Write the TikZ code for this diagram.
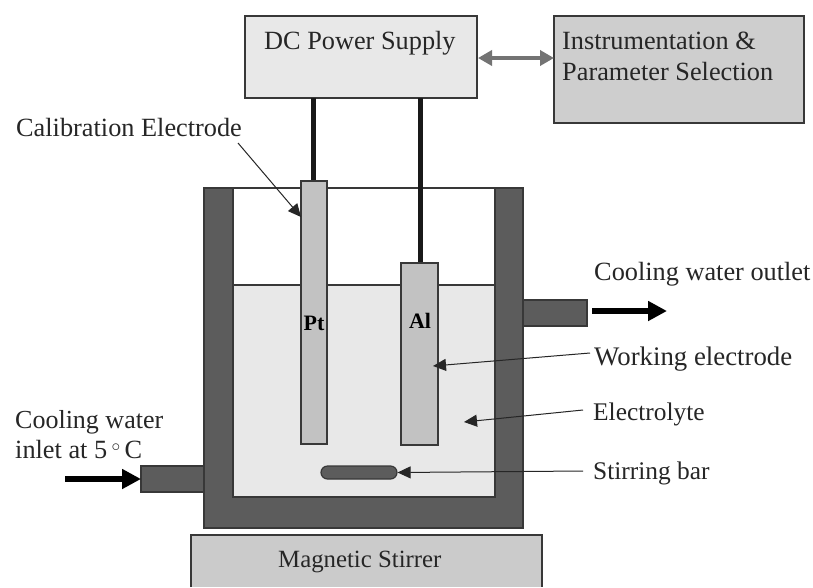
\documentclass[tikz,border=0pt]{standalone}
\usepackage{fontspec}
\setmainfont{Liberation Serif}
\usetikzlibrary{arrows.meta,positioning}
\definecolor{wall}{gray}{0.36}
\definecolor{liquid}{gray}{0.91}
\definecolor{metal}{gray}{0.76}
\definecolor{edge}{gray}{0.22}
\tikzset{
  x=1pt,y=-1pt,
  boxed/.style={draw=edge,line width=1.2pt,anchor=north west,inner sep=0pt,outer sep=0pt},
  label/.style={inner sep=0pt,anchor=base west,font=\fontsize{26.3}{30}\selectfont,text=black!85},
  pointer/.style={draw=black!85,line width=1pt,-{Triangle[length=13pt,width=12pt]}},
  fat/.style={line width=6.5pt,draw=black,-{Triangle[length=19pt,width=19pt]}},
  wire/.style={line width=5pt,draw=black!90},
}
\newcommand{\bx}[6]{\node[boxed,fill=#2,minimum width=#5pt-#3pt,minimum height=#6pt-#4pt] (#1) at (#3,#4) {};}
\begin{document}
\begin{tikzpicture}
\useasboundingbox (0,0) rectangle (813,587);
\fill[white] (0,0) rectangle (813,587);
% supply boxes
\bx{dc}{liquid}{245}{16}{477}{98}
\bx{inst}{metal!80!white}{554}{16}{804}{123}
% stirrer, open at the bottom
\fill[metal!85!white] (191,535) rectangle (542,587);
\draw[draw=edge,line width=1.2pt] (191,587) -- (191,535) -- (542,535) -- (542,587);
% pipes
\bx{pipeL}{wall}{141}{466}{204}{492}
\bx{pipeR}{wall}{523}{300}{587}{326}
% vessel
\bx{vessel}{wall}{204}{188}{523}{528}
\bx{inner}{white}{233}{188}{495}{497}
\bx{liq}{liquid}{233}{285}{495}{497}
% wires
\coordinate (ptTop) at (313,181);
\coordinate (alTop) at (420,263);
\coordinate (ptWire) at (313,98);
\coordinate (alWire) at (420,98);
\draw[wire] (ptWire) -- (ptTop);
\draw[wire] (alWire) -- (alTop);
% electrodes
\bx{pt}{metal}{301}{181}{327}{444}
\bx{al}{metal}{401}{263}{438}{445}
\node[draw=edge,line width=1.2pt,fill=wall,rounded corners=6.5pt,minimum width=76pt,minimum height=13pt,inner sep=0pt] (bar) at (359,472.5) {};
% texts
\node[label] (tdc) at (264,49) {DC Power Supply};
\node[label] (t1a) at (562,49) {Instrumentation \&};
\node[label] (t1b) at (562,80) {Parameter Selection};
\node[label] (tcal) at (16,136) {Calibration Electrode};
\node[label] (tout) at (594,280) {Cooling water outlet};
\node[label,font=\fontsize{26.8}{30}\selectfont] (twork) at (594,365) {Working electrode};
\node[label,font=\fontsize{25.4}{30}\selectfont] (tele) at (593,420) {Electrolyte};
\node[label,font=\fontsize{25.4}{30}\selectfont] (tstir) at (593,479) {Stirring bar};
\node[label,font=\fontsize{26}{30}\selectfont] (tin1) at (15,428) {Cooling water};
\node[label] (tin2) at (15,458) {inlet at 5\,\raisebox{0.55ex}{\fontsize{16}{16}\selectfont$\circ$}\,C};
\node[label,font=\fontsize{24.8}{30}\selectfont] (tmag) at (278,567) {Magnetic Stirrer};
\node[inner sep=0pt,anchor=base,font=\fontsize{22}{24}\selectfont\bfseries] (tpt) at (314,330) {Pt};
\node[inner sep=0pt,anchor=base,font=\fontsize{22}{24}\selectfont\bfseries] (tal) at (420,328) {Al};
% connectors
\draw[line width=4pt,draw=black!55,{Triangle[length=14pt,width=15pt]}-{Triangle[length=14pt,width=15pt]}] (dc.east |- 0,58) ++(1,0) coordinate (aL) -- (inst.west |- 0,58);
\coordinate (inStart) at (65,479);
\coordinate (outEnd) at (667,311);
\draw[fat] (inStart) -- (pipeL.west |- inStart);
\draw[fat] (592,311) coordinate (outStart) -- (outEnd);
\coordinate (calFrom) at (238,143);
\coordinate (calTo) at (301,217);
\coordinate (workFrom) at (590,353);
\coordinate (workTo) at (433,366);
\coordinate (eleFrom) at (583,410);
\coordinate (eleTo) at (464,422);
\coordinate (stirFrom) at (583,471);
\draw[pointer] (calFrom) -- (calTo);
\draw[pointer] (workFrom) -- (workTo);
\draw[pointer] (eleFrom) -- (eleTo);
\draw[pointer] (stirFrom) -- (bar.east);
\end{tikzpicture}
\end{document}
